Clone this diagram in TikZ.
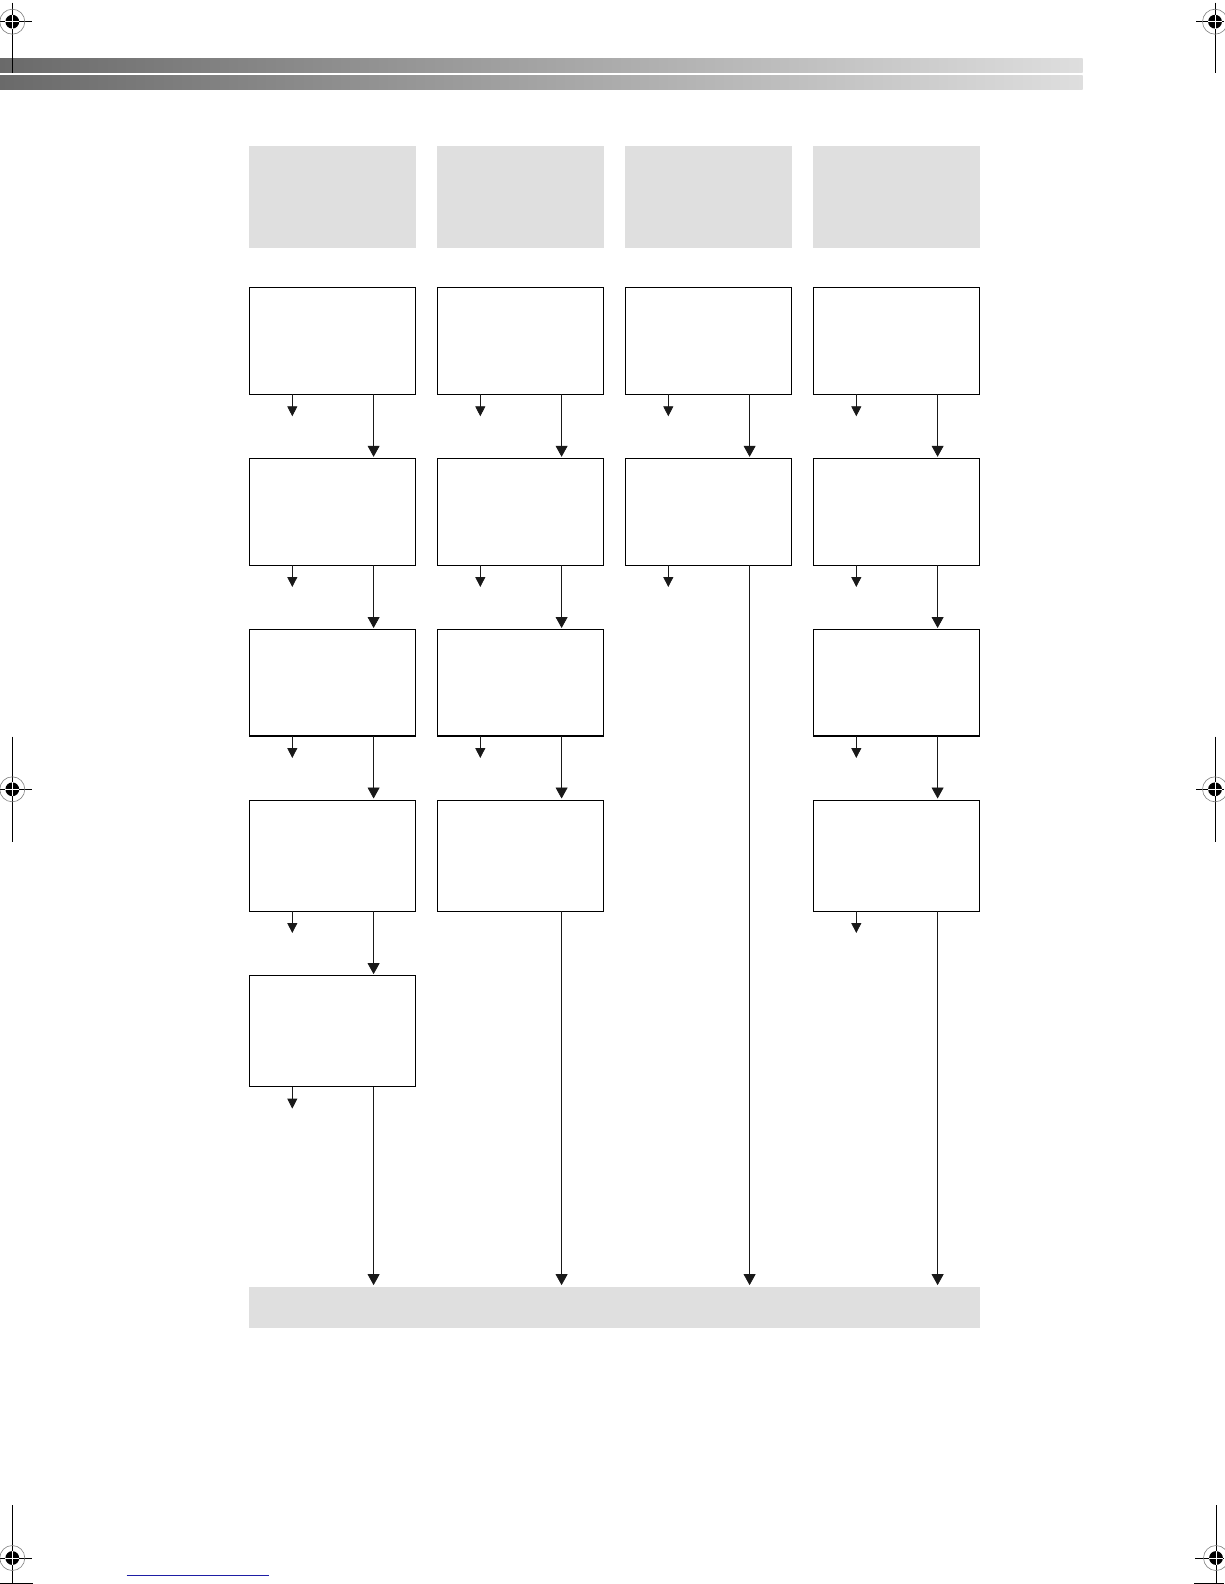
\documentclass[tikz,border=0pt]{standalone}
\usetikzlibrary{arrows.meta,calc}
\definecolor{hdrgray}{RGB}{223,223,223}
\definecolor{barleft}{RGB}{106,106,106}
\definecolor{barright}{RGB}{222,222,222}
\definecolor{navyline}{RGB}{30,30,165}
\tikzset{
  box/.style={draw=black, line width=0.9pt, fill=white, anchor=north west, minimum width=166.5pt, inner sep=0pt, outer sep=0pt},
  hdr/.style={fill=hdrgray, anchor=north west, minimum width=166.5pt, minimum height=101.7pt, inner sep=0pt, outer sep=0pt},
  sarr/.style={line width=0.8pt, draw=black!90, -{Triangle[width=10pt,length=10pt]}},
  larr/.style={line width=0.8pt, draw=black!90, -{Triangle[width=12pt,length=11pt]}, shorten >=1.5pt},
  regring/.style={draw=gray, line width=0.6pt},
  regline/.style={draw=black, line width=0.9pt},
  regmark/.pic={
    \draw[regring] (0,0) circle (12.5);
    \fill[black] (0,0) circle (6.9);
    \draw[white, line width=0.6pt] (-6.9,0) -- (6.9,0) (0,-6.9) -- (0,6.9);
  }
}
\begin{document}
\begin{tikzpicture}[x=1pt,y=-1pt]
\useasboundingbox[fill=white] (0,0) rectangle (1224,1584);

% header stripes
\shade[left color=barleft, right color=barright] (0,59) rectangle (1082.7,72.7);
\shade[left color=barleft, right color=barright] (0,76) rectangle (1082.7,90);

% registration marks: lines
\draw[regline] (0,21.7) -- (31.7,21.7) (12.3,2.7) -- (12.3,73);
\draw[regline] (1196,21.7) -- (1224,21.7) (1215,2.7) -- (1215,73);
\draw[regline] (0,789.3) -- (31.7,789.3) (12.3,736.7) -- (12.3,841.7);
\draw[regline] (1196,789.3) -- (1224,789.3) (1215,736.7) -- (1215,841.7);
\draw[regline] (0,1558) -- (31.7,1558) (12.3,1505) -- (12.3,1584) (0,1583.3) -- (32.7,1583.3);
\draw[regline] (1195,1558) -- (1224,1558) (1216,1505) -- (1216,1584) (1194,1583.3) -- (1224,1583.3);
\pic at (12.3,21.7) {regmark};
\pic at (1215,21.7) {regmark};
\pic at (12.3,789.3) {regmark};
\pic at (1215,789.3) {regmark};
\pic at (12.3,1558) {regmark};
\pic at (1216,1558) {regmark};

% blue footer line
\draw[navyline, line width=1pt] (126.7,1575.7) -- (269,1575.7);

% header boxes
\foreach \c/\x in {1/249.3,2/437.3,3/625.3,4/813.3} {
  \node[hdr] (h\c) at (\x,146) {};
}

% bottom bar
\node[fill=hdrgray, anchor=north west, minimum width=730.5pt, minimum height=41.4pt, inner sep=0pt, outer sep=0pt] (bar) at (249.3,1286.6) {};

% boxes
\foreach \c/\x/\n in {1/249.3/5, 2/437.3/4, 3/625.3/2, 4/813.3/4} {
  \foreach \r/\t/\h in {1/287/107.3, 2/458.3/106.7, 3/629.5/106.5, 4/800/111, 5/975.6/111} {
    \ifnum\r>\n\relax\else
      \node[box, minimum height=\h pt] (b\c\r) at (\x,\t) {};
    \fi
  }
}

% thicker bottom edges of third row
\foreach \c in {1,2,4} {
  \draw[line width=1.8pt] (b\c3.south west) -- (b\c3.south east);
}

% long arrows between boxes
\foreach \c/\n in {1/5,2/4,3/2,4/4} {
  \foreach \r in {1,...,5} {
    \ifnum\r<\n
      \pgfmathtruncatemacro\nr{\r+1}
      \draw[larr] ($(b\c\r.south west)+(124.3,0)$) -- ($(b\c\nr.north west)+(124.3,0)$);
    \fi
  }
  \coordinate (t\c) at ($(b\c\n.south west)+(124.3,0)$);
  \draw[larr] (t\c) -- (t\c |- bar.north);
}

% short arrows
\foreach \c/\r in {1/1,1/2,1/3,1/4,1/5,2/1,2/2,2/3,3/1,3/2,4/1,4/2,4/3,4/4} {
  \coordinate (s\c\r) at ($(b\c\r.south west)+(43,22)$);
  \draw[sarr] (b\c\r.south west -| s\c\r) -- (s\c\r);
}
\end{tikzpicture}
\end{document}
